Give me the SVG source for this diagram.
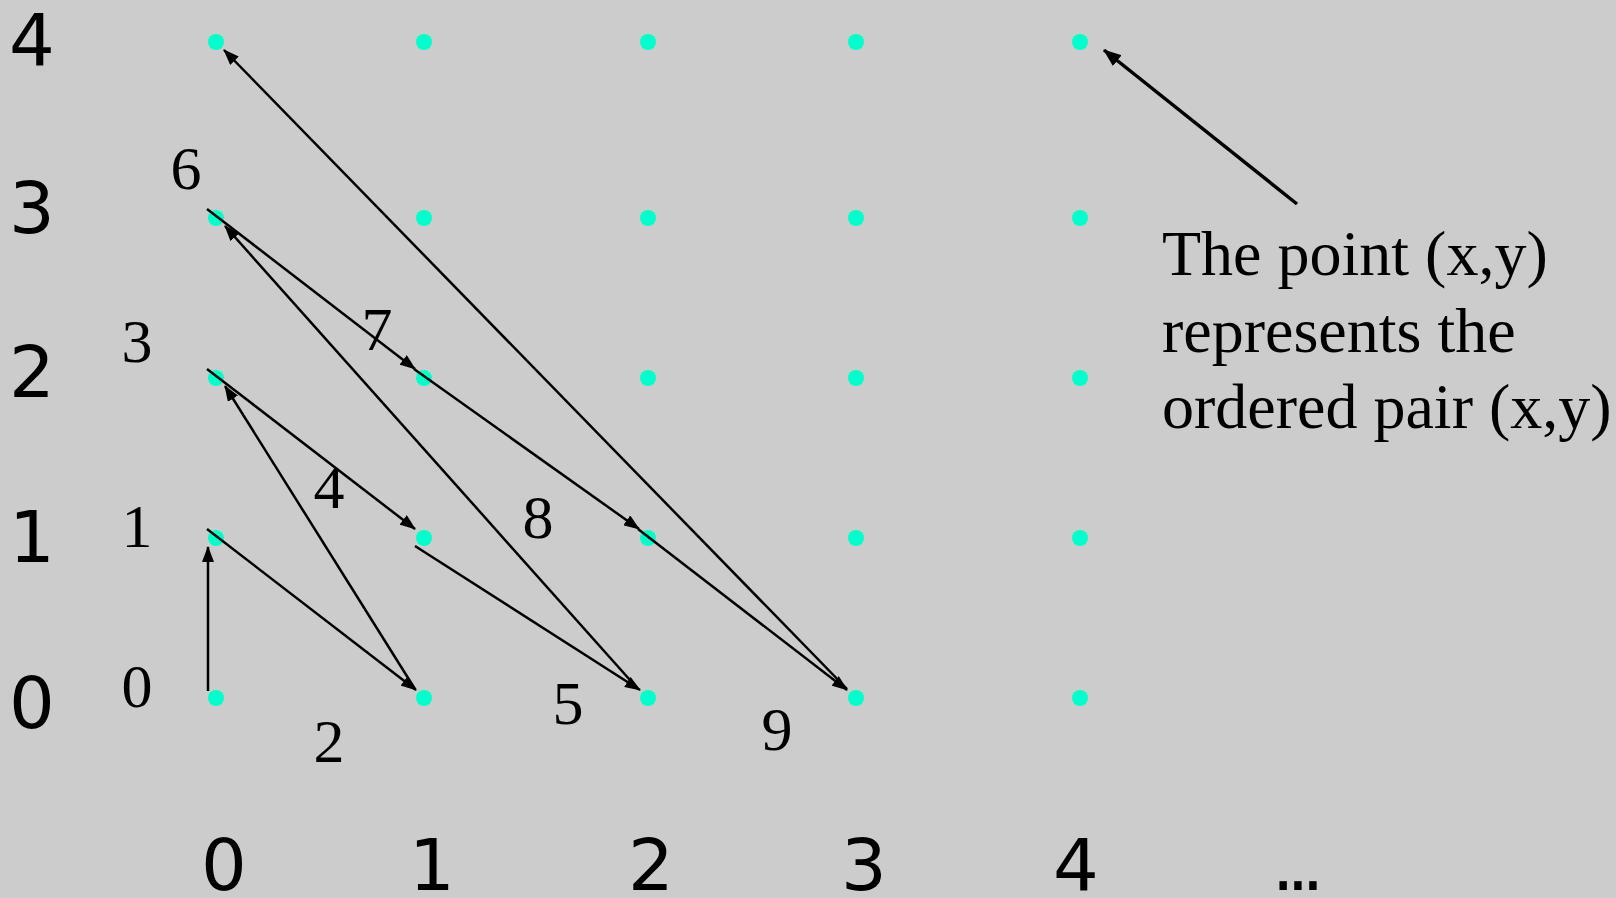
<svg xmlns="http://www.w3.org/2000/svg" width="1616" height="898" viewBox="0 0 1616 898">
<style>
.bg{fill:#cccccc}
.dot{fill:#00ffcc}
.ax{font-family:"DejaVu Sans","Liberation Sans",sans-serif;font-size:72px;fill:#000;text-anchor:middle}
.num{font-family:"Liberation Serif","Times New Roman",serif;font-size:62px;fill:#000;text-anchor:middle}
.note{font-family:"Liberation Serif","Times New Roman",serif;font-size:64px;fill:#000}
.ln{stroke:#000;stroke-width:2.5;fill:none;marker-end:url(#ah)}
.call{stroke:#000;stroke-width:3.5;fill:none;marker-end:url(#ah2)}
</style>
<defs>
<marker id="ah" viewBox="0 0 16 12" refX="15" refY="6" markerWidth="16" markerHeight="12" markerUnits="userSpaceOnUse" orient="auto">
<path d="M0,0 L16,6 L0,12 Z" fill="#000"/>
</marker>
<marker id="ah2" viewBox="0 0 18 14" refX="17" refY="7" markerWidth="18" markerHeight="14" markerUnits="userSpaceOnUse" orient="auto">
<path d="M0,0 L18,7 L0,14 Z" fill="#000"/>
</marker>
</defs>
<rect class="bg" x="0" y="0" width="1616" height="898"/>
<g id="grid">
<circle class="dot" cx="216" cy="42" r="8"/><circle class="dot" cx="424" cy="42" r="8"/><circle class="dot" cx="648" cy="42" r="8"/><circle class="dot" cx="856" cy="42" r="8"/><circle class="dot" cx="1080" cy="42" r="8"/>
<circle class="dot" cx="216" cy="218" r="8"/><circle class="dot" cx="424" cy="218" r="8"/><circle class="dot" cx="648" cy="218" r="8"/><circle class="dot" cx="856" cy="218" r="8"/><circle class="dot" cx="1080" cy="218" r="8"/>
<circle class="dot" cx="216" cy="378" r="8"/><circle class="dot" cx="424" cy="378" r="8"/><circle class="dot" cx="648" cy="378" r="8"/><circle class="dot" cx="856" cy="378" r="8"/><circle class="dot" cx="1080" cy="378" r="8"/>
<circle class="dot" cx="216" cy="538" r="8"/><circle class="dot" cx="424" cy="538" r="8"/><circle class="dot" cx="648" cy="538" r="8"/><circle class="dot" cx="856" cy="538" r="8"/><circle class="dot" cx="1080" cy="538" r="8"/>
<circle class="dot" cx="216" cy="698" r="8"/><circle class="dot" cx="424" cy="698" r="8"/><circle class="dot" cx="648" cy="698" r="8"/><circle class="dot" cx="856" cy="698" r="8"/><circle class="dot" cx="1080" cy="698" r="8"/>
</g>
<g id="axis-y">
<text class="ax" x="32" y="65">4</text>
<text class="ax" x="32" y="233">3</text>
<text class="ax" x="32" y="397">2</text>
<text class="ax" x="32" y="562">1</text>
<text class="ax" x="32" y="728">0</text>
</g>
<g id="axis-x">
<text class="ax" x="224" y="890">0</text>
<text class="ax" x="432" y="890">1</text>
<text class="ax" x="651" y="890">2</text>
<text class="ax" x="864" y="890">3</text>
<text class="ax" x="1076" y="890">4</text>
<text class="ax" x="1294" y="890" letter-spacing="-8">...</text>
</g>
<g id="order-labels">
<text class="num" x="137" y="707">0</text>
<text class="num" x="137" y="547">1</text>
<text class="num" x="329" y="762">2</text>
<text class="num" x="137" y="362">3</text>
<text class="num" x="329" y="508">4</text>
<text class="num" x="568" y="724">5</text>
<text class="num" x="186" y="189">6</text>
<text class="num" x="377" y="350">7</text>
<text class="num" x="538" y="538">8</text>
<text class="num" x="777" y="750">9</text>
</g>
<g id="connectors">
<line class="ln" x1="208" y1="691" x2="208" y2="547"/>
<line class="ln" x1="207" y1="529" x2="416" y2="690"/>
<line class="ln" x1="415" y1="689" x2="225" y2="386"/>
<line class="ln" x1="207" y1="369" x2="415" y2="529"/>
<line class="ln" x1="415" y1="546" x2="640" y2="690"/>
<line class="ln" x1="638" y1="689" x2="225" y2="226"/>
<line class="ln" x1="207" y1="209" x2="415" y2="369"/>
<line class="ln" x1="414" y1="369" x2="639" y2="529"/>
<line class="ln" x1="638" y1="529" x2="847" y2="690"/>
<line class="ln" x1="847" y1="689" x2="224" y2="50"/>
<line class="call" x1="1297" y1="204" x2="1104" y2="50"/>
</g>
<g id="note">
<text class="note" x="1162" y="275">The point (x,y)</text>
<text class="note" x="1162" y="352">represents the</text>
<text class="note" x="1162" y="428">ordered pair (x,y)</text>
</g>
</svg>
